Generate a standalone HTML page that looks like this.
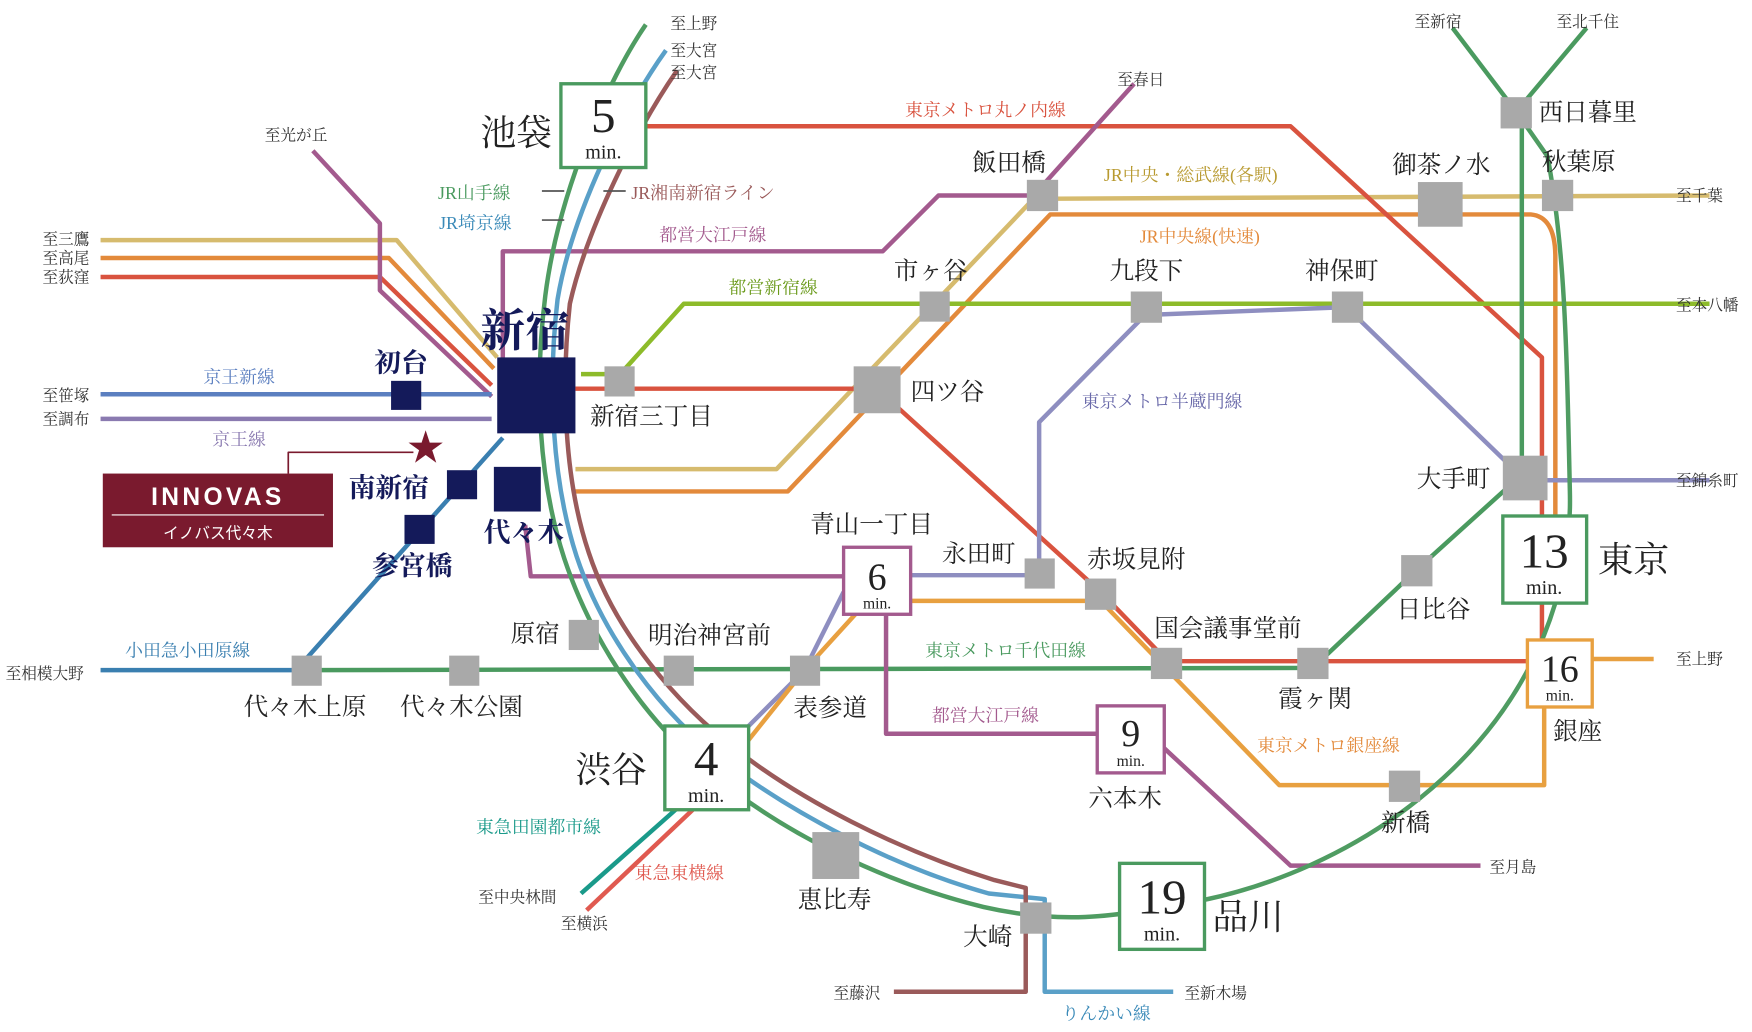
<!DOCTYPE html>
<html><head><meta charset="utf-8"><style>
html,body{margin:0;padding:0;background:#fff;}
svg{display:block;}
text{font-family:"Liberation Serif","Noto Serif CJK SC",serif;}
.st{font-size:22px;fill:#222;}
.lb{font-size:16px;}
.sm{font-size:14px;fill:#333;}
.g{fill:#a9a9a9;}
</style></head><body>
<svg width="1752" height="1032" viewBox="0 0 1568 924" preserveAspectRatio="none" xmlns="http://www.w3.org/2000/svg">
<g fill="none" stroke-width="4" stroke-linejoin="round">
<!-- west lines -->
<path d="M90,215 L355,215 L445,320" stroke="#d6bb6e"/>
<path d="M90,231 L348,231 L442,330" stroke="#e38a3b"/>
<path d="M90,248 L340,248 L440,345" stroke="#d9533f"/>
<path d="M280,135 L340,200 L340,260 L440,355" stroke="#a35a8e"/>
<path d="M90,353 L440,353" stroke="#5b7fc0"/>
<path d="M90,375 L440,375" stroke="#8a7ab0"/>
<!-- odakyu -->
<path d="M90,600 L265,600 L450,392" stroke="#3a7fb0"/>
<!-- chuo sobu / rapid -->
<path d="M515,420 L695,420 L925,178 L1530,175" stroke="#d6bb6e"/>
<path d="M515,440 L705,440 L940,192 L1370,192 Q1392,194 1392,230 L1392,462" stroke="#e38a3b"/>
<!-- marunouchi -->
<path d="M515,348 L785,348 L985,530 L1045,592 L1370,592 L1380,575 L1380,320 L1155,113 L578,113" stroke="#d9533f"/>
<!-- toei shinjuku -->
<path d="M520,335 L555,335 L612,272 L1530,272" stroke="#8dbb2a"/>
<!-- hanzomon -->
<path d="M1530,430 L1365,430 L1205,275 L1025,282 L930,378 L930,515 L815,515 M755,530 L720,600 L660,660" stroke="#8e8ec0"/>
<!-- ginza -->
<path d="M668,665 L720,600 L770,545 M815,538 L985,538 L1045,600 L1145,703 L1382,703 L1382,633 M1425,590 L1480,590" stroke="#e8a040"/>
<!-- chiyoda -->
<path d="M275,600 L1175,598 L1268,510 L1362,425 L1362,100 M1357,100 L1420,25" stroke="#4a9a5f"/>
<path d="M1357,100 L1300,25" stroke="#4a9a5f"/>
<!-- oedo -->
<path d="M450,330 L450,225 L790,225 L840,175 L925,175 L1015,75" stroke="#a35a8e"/>
<path d="M470,470 L475,516 L755,516 M793,550 L793,657 L982,657 M1042,670 L1155,775 L1325,775" stroke="#a35a8e"/>
<!-- tokyu -->
<path d="M608,722 L520,800" stroke="#1a9a8a"/>
<path d="M620,725 L525,815" stroke="#e05a50"/>
<!-- JR trio -->
<path d="M578,22 C545,70 500,170 488,265 C478,345 482,430 505,500 C530,575 580,650 640,695 C700,745 790,790 880,812 C950,828 1000,820 1040,812 C1220,790 1410,650 1405,440 C1402,300 1400,220 1385,140 L1357,100" stroke="#4f9c62"/>
<path d="M596,45 C560,95 512,190 499,268 C490,345 494,430 516,498 C540,570 592,640 650,683 C705,725 795,775 885,800 L935,805 L935,888 L1050,888" stroke="#5aa0c8"/>
<path d="M606,63 C570,115 525,205 510,272 C502,345 505,430 527,495 C550,565 605,630 660,672 C715,715 800,760 890,788 L918,795 L918,888 L800,888" stroke="#9a5a5a"/>
<path d="M258,424 L258,405 L370,405" stroke="#7a1a2e" stroke-width="1.5"/>
<path d="M485,197 L505,197 M540,171 L560,171 M485,171 L505,171" stroke="#555" stroke-width="1.5"/>
</g>
<!-- gray stations -->
<g class="g">
<rect x="541" y="328" width="27" height="27"/>
<rect x="823" y="261" width="27" height="27"/>
<rect x="919" y="161" width="28" height="28"/>
<rect x="764" y="328" width="42" height="42"/>
<rect x="1012" y="261" width="28" height="28"/>
<rect x="1192" y="261" width="28" height="28"/>
<rect x="1269" y="163" width="40" height="40"/>
<rect x="1380" y="161" width="28" height="28"/>
<rect x="1343" y="87" width="28" height="28"/>
<rect x="1345" y="408" width="40" height="40"/>
<rect x="1254" y="497" width="28" height="28"/>
<rect x="917" y="500" width="27" height="27"/>
<rect x="971" y="518" width="28" height="28"/>
<rect x="1030" y="580" width="28" height="28"/>
<rect x="1161" y="580" width="28" height="28"/>
<rect x="509" y="555" width="27" height="27"/>
<rect x="594" y="587" width="27" height="27"/>
<rect x="707" y="587" width="27" height="27"/>
<rect x="402" y="587" width="27" height="27"/>
<rect x="261" y="587" width="27" height="27"/>
<rect x="1243" y="690" width="28" height="28"/>
<rect x="727" y="745" width="42" height="42"/>
<rect x="913" y="808" width="28" height="28"/>
</g>
<!-- navy stations -->
<g fill="#141a5a">
<rect x="445" y="320" width="70" height="68"/>
<rect x="350" y="341" width="27" height="26"/>
<rect x="400" y="421" width="27" height="26"/>
<rect x="362" y="461" width="27" height="26"/>
<rect x="442" y="418" width="42" height="40"/>
</g>
<text x="381" y="414" font-size="40" fill="#7a1a2e" text-anchor="middle" style="font-family:'DejaVu Sans',sans-serif">★</text>
<!-- time boxes -->
<g fill="#fff" stroke-width="3">
<rect x="502" y="75" width="76" height="75" stroke="#4a9a5f"/>
<rect x="595" y="650" width="75" height="75" stroke="#4a9a5f"/>
<rect x="1002" y="773" width="76" height="77" stroke="#4a9a5f"/>
<rect x="1345" y="462" width="75" height="78" stroke="#4a9a5f"/>
<rect x="755" y="490" width="60" height="60" stroke="#a35a8e"/>
<rect x="982" y="632" width="60" height="60" stroke="#a35a8e"/>
<rect x="1367" y="573" width="58" height="60" stroke="#e8a040"/>
</g>
<g fill="#222" text-anchor="middle">
<text x="540" y="118" font-size="44">5</text><text x="540" y="142" font-size="18">min.</text>
<text x="632" y="694" font-size="44">4</text><text x="632" y="718" font-size="18">min.</text>
<text x="1040" y="818" font-size="44">19</text><text x="1040" y="842" font-size="18">min.</text>
<text x="1382" y="508" font-size="44">13</text><text x="1382" y="532" font-size="18">min.</text>
<text x="785" y="528" font-size="34">6</text><text x="785" y="545" font-size="14">min.</text>
<text x="1012" y="668" font-size="34">9</text><text x="1012" y="686" font-size="14">min.</text>
<text x="1396" y="610" font-size="34">16</text><text x="1396" y="627" font-size="14">min.</text>
</g>
<!-- INNOVAS -->
<rect x="92" y="424" width="206" height="66" fill="#7a1a2e"/>
<text x="195" y="452" font-size="22" fill="#fff" text-anchor="middle" font-weight="bold" letter-spacing="3" style="font-family:'Liberation Sans',sans-serif">INNOVAS</text>
<line x1="100" y1="461" x2="290" y2="461" stroke="#fff" stroke-width="1"/>
<text x="195" y="482" font-size="14" fill="#fff" text-anchor="middle" style="font-family:'Liberation Sans','Noto Sans CJK JP',sans-serif">イノバス代々木</text>
<!-- big names -->
<text x="430" y="130" font-size="32" fill="#222">池袋</text>
<text x="430" y="310" font-size="40" fill="#141a5a" font-weight="bold">新宿</text>
<text x="335" y="333" font-size="24" fill="#141a5a" font-weight="bold">初台</text>
<text x="312" y="445" font-size="24" fill="#141a5a" font-weight="bold">南新宿</text>
<text x="333" y="515" font-size="24" fill="#141a5a" font-weight="bold">参宮橋</text>
<text x="433" y="485" font-size="24" fill="#141a5a" font-weight="bold">代々木</text>
<text x="515" y="700" font-size="32" fill="#222">渋谷</text>
<text x="1085" y="832" font-size="32" fill="#222">品川</text>
<text x="1430" y="512" font-size="32" fill="#222">東京</text>
<g class="st">
<text x="528" y="380">新宿三丁目</text>
<text x="870" y="153">飯田橋</text>
<text x="800" y="250">市ヶ谷</text>
<text x="815" y="358">四ツ谷</text>
<text x="993" y="250">九段下</text>
<text x="1168" y="250">神保町</text>
<text x="1246" y="155">御茶ノ水</text>
<text x="1380" y="152">秋葉原</text>
<text x="1377" y="108">西日暮里</text>
<text x="1268" y="436">大手町</text>
<text x="1250" y="553">日比谷</text>
<text x="725" y="477">青山一丁目</text>
<text x="843" y="503">永田町</text>
<text x="973" y="508">赤坂見附</text>
<text x="1033" y="570">国会議事堂前</text>
<text x="1144" y="633">霞ヶ関</text>
<text x="457" y="575">原宿</text>
<text x="580" y="576">明治神宮前</text>
<text x="710" y="641">表参道</text>
<text x="218" y="640">代々木上原</text>
<text x="358" y="640">代々木公園</text>
<text x="1390" y="662">銀座</text>
<text x="974" y="722">六本木</text>
<text x="1236" y="744">新橋</text>
<text x="714" y="813">恵比寿</text>
<text x="862" y="846">大崎</text>
</g>
<!-- line labels -->
<g class="lb">
<text x="392" y="178" fill="#4a9a5f">JR山手線</text>
<text x="393" y="205" fill="#3a8ab8">JR埼京線</text>
<text x="565" y="178" fill="#9a5a5a">JR湘南新宿ライン</text>
<text x="810" y="104" fill="#d9533f">東京メトロ丸ノ内線</text>
<text x="590" y="216" fill="#a35a8e">都営大江戸線</text>
<text x="988" y="162" fill="#b89a30">JR中央・総武線(各駅)</text>
<text x="1020" y="217" fill="#e38a3b">JR中央線(快速)</text>
<text x="652" y="263" fill="#6a9a1a">都営新宿線</text>
<text x="968" y="365" fill="#6a6aaa">東京メトロ半蔵門線</text>
<text x="182" y="343" fill="#5b7fc0">京王新線</text>
<text x="190" y="399" fill="#8a7ab0">京王線</text>
<text x="112" y="588" fill="#3a7fb0">小田急小田原線</text>
<text x="828" y="588" fill="#4a9a5f">東京メトロ千代田線</text>
<text x="834" y="646" fill="#a35a8e">都営大江戸線</text>
<text x="1125" y="673" fill="#e38a3b">東京メトロ銀座線</text>
<text x="426" y="746" fill="#1a9a8a">東急田園都市線</text>
<text x="568" y="787" fill="#e05a50">東急東横線</text>
<text x="950" y="913" fill="#3a8ab8">りんかい線</text>
</g>
<g class="sm">
<text x="600" y="26">至上野</text>
<text x="600" y="50">至大宮</text>
<text x="600" y="70">至大宮</text>
<text x="237" y="126">至光が丘</text>
<text x="1000" y="76">至春日</text>
<text x="1266" y="24">至新宿</text>
<text x="1393" y="24">至北千住</text>
<text x="38" y="219">至三鷹</text>
<text x="38" y="236">至高尾</text>
<text x="38" y="253">至荻窪</text>
<text x="38" y="359">至笹塚</text>
<text x="38" y="380">至調布</text>
<text x="5" y="608">至相模大野</text>
<text x="1500" y="180">至千葉</text>
<text x="1500" y="278">至本八幡</text>
<text x="1500" y="435">至錦糸町</text>
<text x="1500" y="595">至上野</text>
<text x="1333" y="781">至月島</text>
<text x="428" y="808">至中央林間</text>
<text x="502" y="832">至横浜</text>
<text x="746" y="894">至藤沢</text>
<text x="1060" y="894">至新木場</text>
</g>
</svg>
</body></html>
